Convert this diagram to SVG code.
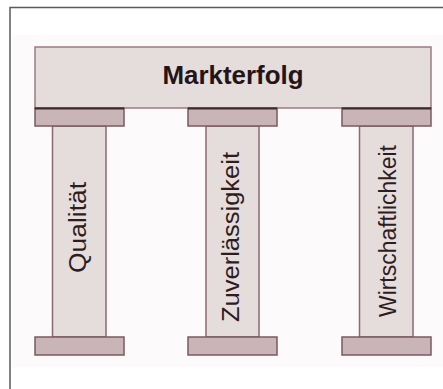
<svg xmlns="http://www.w3.org/2000/svg" width="443" height="389" viewBox="0 0 443 389">
  <style>
    .beam { fill: #e5dcdc; stroke: #9a7c82; stroke-width: 1.5; }
    .col { fill: #e5dcdc; stroke: #8a6a70; stroke-width: 1.5; }
    .cap { fill: #c9b5b7; stroke: #7a5a60; stroke-width: 1.5; }
    .capTop { stroke: #3e2a2e; stroke-width: 2; }
    .title { font-family: "Liberation Sans", Arial, sans-serif; font-weight: bold; font-size: 26px; fill: #241416; text-anchor: middle; }
    .label { font-family: "Liberation Sans", Arial, sans-serif; font-size: 23.5px; fill: #2e1c1f; text-anchor: middle; }
  </style>

  <rect x="0" y="0" width="443" height="389" fill="#ffffff"/>
  <!-- faint backdrop -->
  <rect x="12" y="35" width="431" height="332" fill="#fcfafa"/>
  <!-- frame -->
  <path d="M10,389 V7.5 H443" fill="none" stroke="#5a5a5a" stroke-width="1.5"/>

  <!-- roof beam -->
  <g id="roof">
    <rect class="beam" x="35" y="47" width="396" height="61"/>
    <text class="title" x="233" y="84" textLength="141" lengthAdjust="spacingAndGlyphs">Markterfolg</text>
  </g>

  <g id="pillar-qualitaet">
    <rect class="col" x="52.5" y="126" width="53.5" height="211"/>
    <rect class="cap" x="35" y="108" width="89" height="18"/>
    <line class="capTop" x1="35" y1="108.5" x2="124" y2="108.5"/>
    <rect class="cap" x="35" y="337" width="89" height="18"/>
    <text class="label" transform="translate(86,227.5) rotate(-90)" textLength="91" lengthAdjust="spacingAndGlyphs">Qualität</text>
  </g>

  <g id="pillar-zuverlaessigkeit">
    <rect class="col" x="206" y="126" width="53" height="211"/>
    <rect class="cap" x="188" y="108" width="89" height="18"/>
    <line class="capTop" x1="188" y1="108.5" x2="277" y2="108.5"/>
    <rect class="cap" x="188" y="337" width="89" height="18"/>
    <text class="label" transform="translate(239,237) rotate(-90)" textLength="170" lengthAdjust="spacingAndGlyphs">Zuverlässigkeit</text>
  </g>

  <g id="pillar-wirtschaftlichkeit">
    <rect class="col" x="359.5" y="126" width="53.5" height="211"/>
    <rect class="cap" x="342" y="108" width="89" height="18"/>
    <line class="capTop" x1="342" y1="108.5" x2="431" y2="108.5"/>
    <rect class="cap" x="342" y="337" width="89" height="18"/>
    <text class="label" transform="translate(396,231) rotate(-90)" textLength="172" lengthAdjust="spacingAndGlyphs">Wirtschaftlichkeit</text>
  </g>

  <g id="connectors"></g>
</svg>
